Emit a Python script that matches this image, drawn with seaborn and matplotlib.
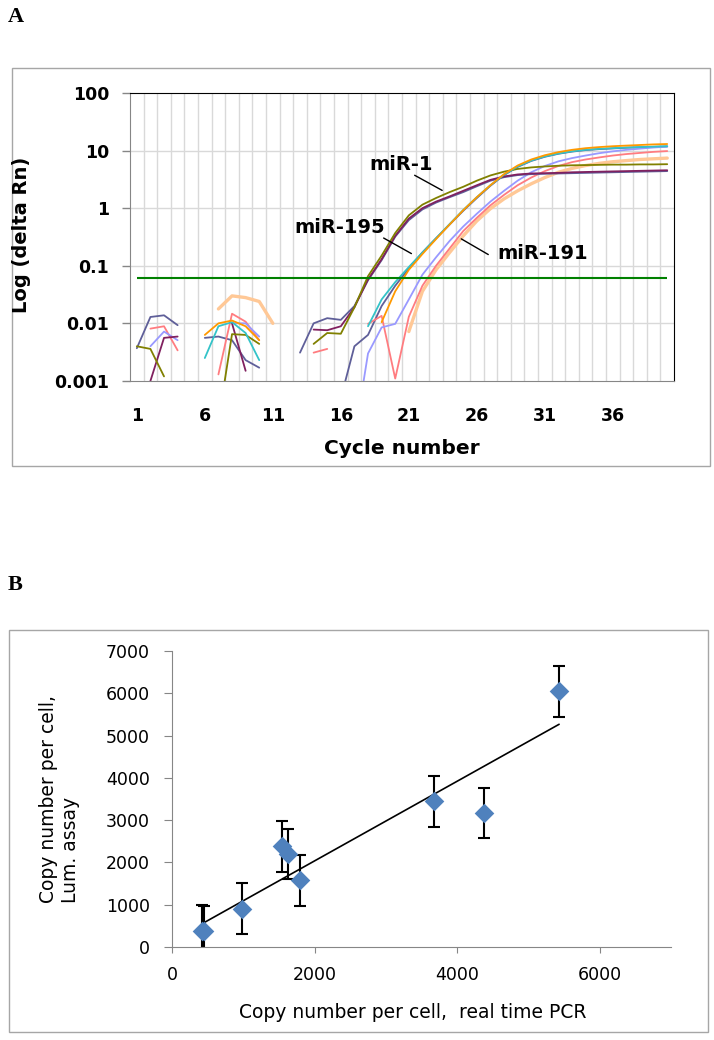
import numpy as np
import pandas as pd
import seaborn as sns
import matplotlib.pyplot as plt
from matplotlib.patches import Rectangle

nan = np.nan

# ---- panel A: amplification plot (delta Rn per cycle, blanks = no value) ----
cycles = list(range(1, 41))

slate_a = [0.0037, 0.0129, 0.0138, 0.0093, nan, nan, nan, nan, nan, nan,
           nan, nan, 0.0031, 0.0100, 0.0123, 0.0115, 0.020, 0.056, 0.125, 0.32,
           0.62, 0.95, 1.25, 1.55, 1.9, 2.4, 3.0, 3.45, 3.75, 3.9,
           3.95, 4.0, 4.05, 4.1, 4.15, 4.2, 4.25, 4.3, 4.35, 4.4]
purple = [nan, 0.0010, 0.0056, 0.0059, nan, nan, nan, 0.0100, 0.0015, nan,
          nan, nan, nan, 0.0078, 0.0076, 0.0089, 0.019, 0.058, 0.13, 0.33,
          0.66, 1.0, 1.3, 1.6, 2.0, 2.5, 3.1, 3.55, 3.85, 4.0,
          4.05, 4.1, 4.2, 4.25, 4.3, 4.35, 4.4, 4.45, 4.5, 4.55]
olive = [0.0040, 0.0036, 0.0012, nan, nan, nan, 0.0002, 0.0065, 0.0063, 0.0044,
         nan, nan, nan, 0.0044, 0.0068, 0.0066, 0.019, 0.066, 0.15, 0.37,
         0.75, 1.15, 1.5, 1.9, 2.35, 3.0, 3.7, 4.3, 4.8, 5.1,
         5.3, 5.45, 5.55, 5.6, 5.65, 5.7, 5.7, 5.75, 5.75, 5.8]
orange = [nan, nan, nan, nan, nan, 0.0063, 0.010, 0.0112, 0.0089, 0.0051,
          nan, nan, nan, nan, nan, nan, nan, nan, 0.0105, 0.036,
          0.085, 0.16, 0.29, 0.52, 0.92, 1.55, 2.5, 3.9, 5.5, 7.0,
          8.3, 9.4, 10.3, 11.0, 11.5, 11.9, 12.2, 12.5, 12.8, 13.0]
cyan = [nan, nan, nan, nan, nan, 0.0025, 0.0089, 0.0105, 0.0068, 0.0023,
        nan, nan, nan, nan, nan, nan, nan, 0.0089, 0.026, 0.052,
        0.095, 0.17, 0.3, 0.53, 0.93, 1.55, 2.5, 3.8, 5.3, 6.7,
        7.9, 8.9, 9.7, 10.3, 10.7, 11.0, 11.3, 11.5, 11.7, 11.9]
slate_b = [nan, nan, nan, nan, nan, 0.0056, 0.0059, 0.0051, 0.0023, 0.0017,
           nan, nan, nan, nan, nan, 0.0005, 0.004, 0.0063, 0.02, 0.045,
           0.09, 0.17, 0.3, 0.52, 0.9, 1.5, 2.45, 3.75, 5.2, 6.6,
           7.8, 8.8, 9.6, 10.2, 10.6, 10.9, 11.2, 11.4, 11.6, 11.8]
salmon = [nan, 0.0081, 0.0089, 0.0034, nan, nan, 0.0013, 0.0147, 0.0107, 0.0051,
          nan, nan, nan, 0.0031, 0.0036, nan, nan, 0.0098, 0.0135, 0.0011,
          0.013, 0.045, 0.1, 0.2, 0.4, 0.68, 1.12, 1.7, 2.5, 3.4,
          4.4, 5.4, 6.3, 7.0, 7.6, 8.2, 8.7, 9.1, 9.5, 9.8]
periwinkle = [nan, 0.0040, 0.0072, 0.0051, nan, nan, nan, 0.0101, 0.0100, 0.0059,
              nan, nan, nan, nan, nan, nan, 0.0001, 0.003, 0.0085, 0.0098,
              0.026, 0.07, 0.14, 0.27, 0.48, 0.8, 1.3, 2.0, 3.0, 4.2,
              5.4, 6.5, 7.4, 8.2, 9.0, 9.7, 10.3, 10.8, 11.3, 11.7]
peach = [nan, nan, nan, nan, nan, nan, 0.0178, 0.030, 0.028, 0.024,
         0.010, nan, nan, nan, nan, nan, nan, nan, nan, nan,
         0.0072, 0.036, 0.085, 0.17, 0.33, 0.6, 0.98, 1.45, 2.0, 2.65,
         3.4, 4.2, 4.9, 5.5, 6.0, 6.4, 6.7, 7.0, 7.2, 7.4]
threshold = 0.062

wells = {
    'slate_b': (slate_b, '#5f5f99'),
    'salmon': (salmon, '#ff7c80'),
    'periwinkle': (periwinkle, '#9999ff'),
    'slate_a': (slate_a, '#5f5f99'),
    'purple': (purple, '#80205f'),
    'olive': (olive, '#808000'),
    'cyan': (cyan, '#33c3c8'),
    'orange': (orange, '#ff9900'),
}

# ---- panel B: copy number comparison ----
pcr_copies = [420, 445, 975, 1540, 1630, 1800, 3680, 4380, 5430]
lum_copies = [390, 370, 910, 2380, 2200, 1580, 3450, 3170, 6050]
lum_err = [600, 600, 600, 600, 600, 600, 600, 600, 600]


def to_segments(name, values):
    # split a well into runs of consecutive cycles so blanks stay blank
    rows = []
    seg = 0
    prev = None
    for c, v in zip(cycles, values):
        if np.isnan(v):
            prev = None
            continue
        if prev is None:
            seg += 1
        rows.append({'cycle': c, 'drn': v, 'well': name, 'seg': f'{name}{seg}'})
        prev = v
    return rows


rows = []
for name, (vals, col) in wells.items():
    rows += to_segments(name, vals)
amp = pd.DataFrame(rows)
peach_df = pd.DataFrame(to_segments('peach', peach))

sns.set_style('white')
plt.rcParams['font.family'] = ['DejaVu Sans']
plt.rcParams['text.color'] = 'black'
plt.rcParams['xtick.color'] = 'black'
plt.rcParams['ytick.color'] = 'black'

fig = plt.figure(figsize=(7.14, 10.4), dpi=100)

# outer frames of the two panels
fig.add_artist(Rectangle((0.0168, 0.5519), 0.9776, 0.3827, transform=fig.transFigure,
                         fill=False, ec='#a6a6a6', lw=1))
fig.add_artist(Rectangle((0.0126, 0.0077), 0.979, 0.3865, transform=fig.transFigure,
                         fill=False, ec='#a6a6a6', lw=1))
fig.text(8 / 714, 1 - 7 / 1040, 'A', family='Liberation Serif', weight='bold',
         fontsize=16, ha='left', va='top')
fig.text(8 / 714, 1 - 575 / 1040, 'B', family='Liberation Serif', weight='bold',
         fontsize=16, ha='left', va='top')

# ---------------- panel A ----------------
ax = fig.add_axes([0.1821, 0.6337, 0.7619, 0.2769])
ax.set_yscale('log')
for k in range(1, 40):
    ax.axvline(k + 0.5, color='#d9d9d9', lw=1, zorder=0)
for v in [0.01, 0.1, 1, 10]:
    ax.axhline(v, color='#d9d9d9', lw=1, zorder=0)

sns.lineplot(data=peach_df, x='cycle', y='drn', units='seg', estimator=None,
             color='#ffc896', lw=2.4, ax=ax, legend=False)
sns.lineplot(data=amp, x='cycle', y='drn', hue='well', units='seg', estimator=None,
             hue_order=list(wells.keys()),
             palette={k: c for k, (v, c) in wells.items()},
             lw=1.3, ax=ax, legend=False)
ax.hlines(threshold, cycles[0], cycles[-1], color='#008000', lw=1.5, zorder=3)

ax.set_xlim(0.5, 40.5)
ax.set_ylim(0.001, 100)
ax.set_xticks(cycles[::5])
ax.set_xticklabels([str(c) for c in cycles[::5]], fontweight='bold', fontsize=12.5)
ax.set_yticks([0.001, 0.01, 0.1, 1, 10, 100])
ax.set_yticklabels(['0.001', '0.01', '0.1', '1', '10', '100'], fontweight='bold', fontsize=12.5)
ax.yaxis.set_minor_locator(plt.NullLocator())
ax.tick_params(axis='y', which='major', length=6, width=1, color='#868686', direction='out', pad=9, left=True)
ax.tick_params(axis='x', length=0, pad=19)
ax.set_xlabel('')
ax.set_ylabel('')
for side in ['left', 'bottom']:
    ax.spines[side].set_color('#868686')
for side in ['top', 'right']:
    ax.spines[side].set_color('black')

ax.annotate('', xy=(23.63, 1.93), xytext=(21.25, 3.93),
            arrowprops=dict(arrowstyle='-', color='black', lw=1))
ax.annotate('', xy=(21.37, 0.154), xytext=(18.97, 0.32),
            arrowprops=dict(arrowstyle='-', color='black', lw=1))
ax.annotate('', xy=(27.02, 0.148), xytext=(24.68, 0.31),
            arrowprops=dict(arrowstyle='-', color='black', lw=1))
ax.text(20.46, 5.62, 'miR-1', fontweight='bold', fontsize=14, ha='center', va='center')
ax.text(15.9, 0.47, 'miR-195', fontweight='bold', fontsize=14, ha='center', va='center')
ax.text(30.85, 0.166, 'miR-191', fontweight='bold', fontsize=14, ha='center', va='center')

fig.text(22 / 714, 1 - 235 / 1040, 'Log (delta Rn)', rotation=90, fontweight='bold',
         fontsize=14, ha='center', va='center')
fig.text(402 / 714, 1 - 448 / 1040, 'Cycle number', fontweight='bold',
         fontsize=14.5, ha='center', va='center')

# ---------------- panel B ----------------
axb = fig.add_axes([0.2409, 0.0894, 0.6989, 0.2846])
axb.errorbar(pcr_copies, lum_copies, yerr=lum_err, fmt='none', ecolor='black',
             elinewidth=1.5, capsize=4, capthick=1.5, zorder=2)
sns.regplot(x=pcr_copies, y=lum_copies, scatter=False, ci=None, truncate=True,
            color='black', line_kws={'lw': 1.2, 'zorder': 3}, ax=axb)
sns.scatterplot(x=pcr_copies, y=lum_copies, marker='D', s=100, color='#4f81bd',
                edgecolor='#4f81bd', linewidth=0, zorder=4, ax=axb)
axb.set_xlim(0, 7000)
axb.set_ylim(0, 7000)
axb.set_xticks([0, 2000, 4000, 6000])
axb.set_yticks(range(0, 7001, 1000))
axb.tick_params(labelsize=12.5)
axb.tick_params(axis='y', length=6, color='#868686', direction='out', pad=10, left=True)
axb.tick_params(axis='x', length=4, color='#868686', direction='out', pad=10, bottom=True)
for side in ['left', 'bottom']:
    axb.spines[side].set_color('#868686')
for side in ['top', 'right']:
    axb.spines[side].set_visible(False)

fig.text(60 / 714, 1 - 799 / 1040, 'Copy number per cell,\nLum. assay', rotation=90,
         fontsize=13.5, ha='center', va='center', multialignment='left')
fig.text(413 / 714, 1 - 1012 / 1040, 'Copy number per cell,  real time PCR',
         fontsize=13.5, ha='center', va='center')

fig.savefig('out.png', dpi=100)
